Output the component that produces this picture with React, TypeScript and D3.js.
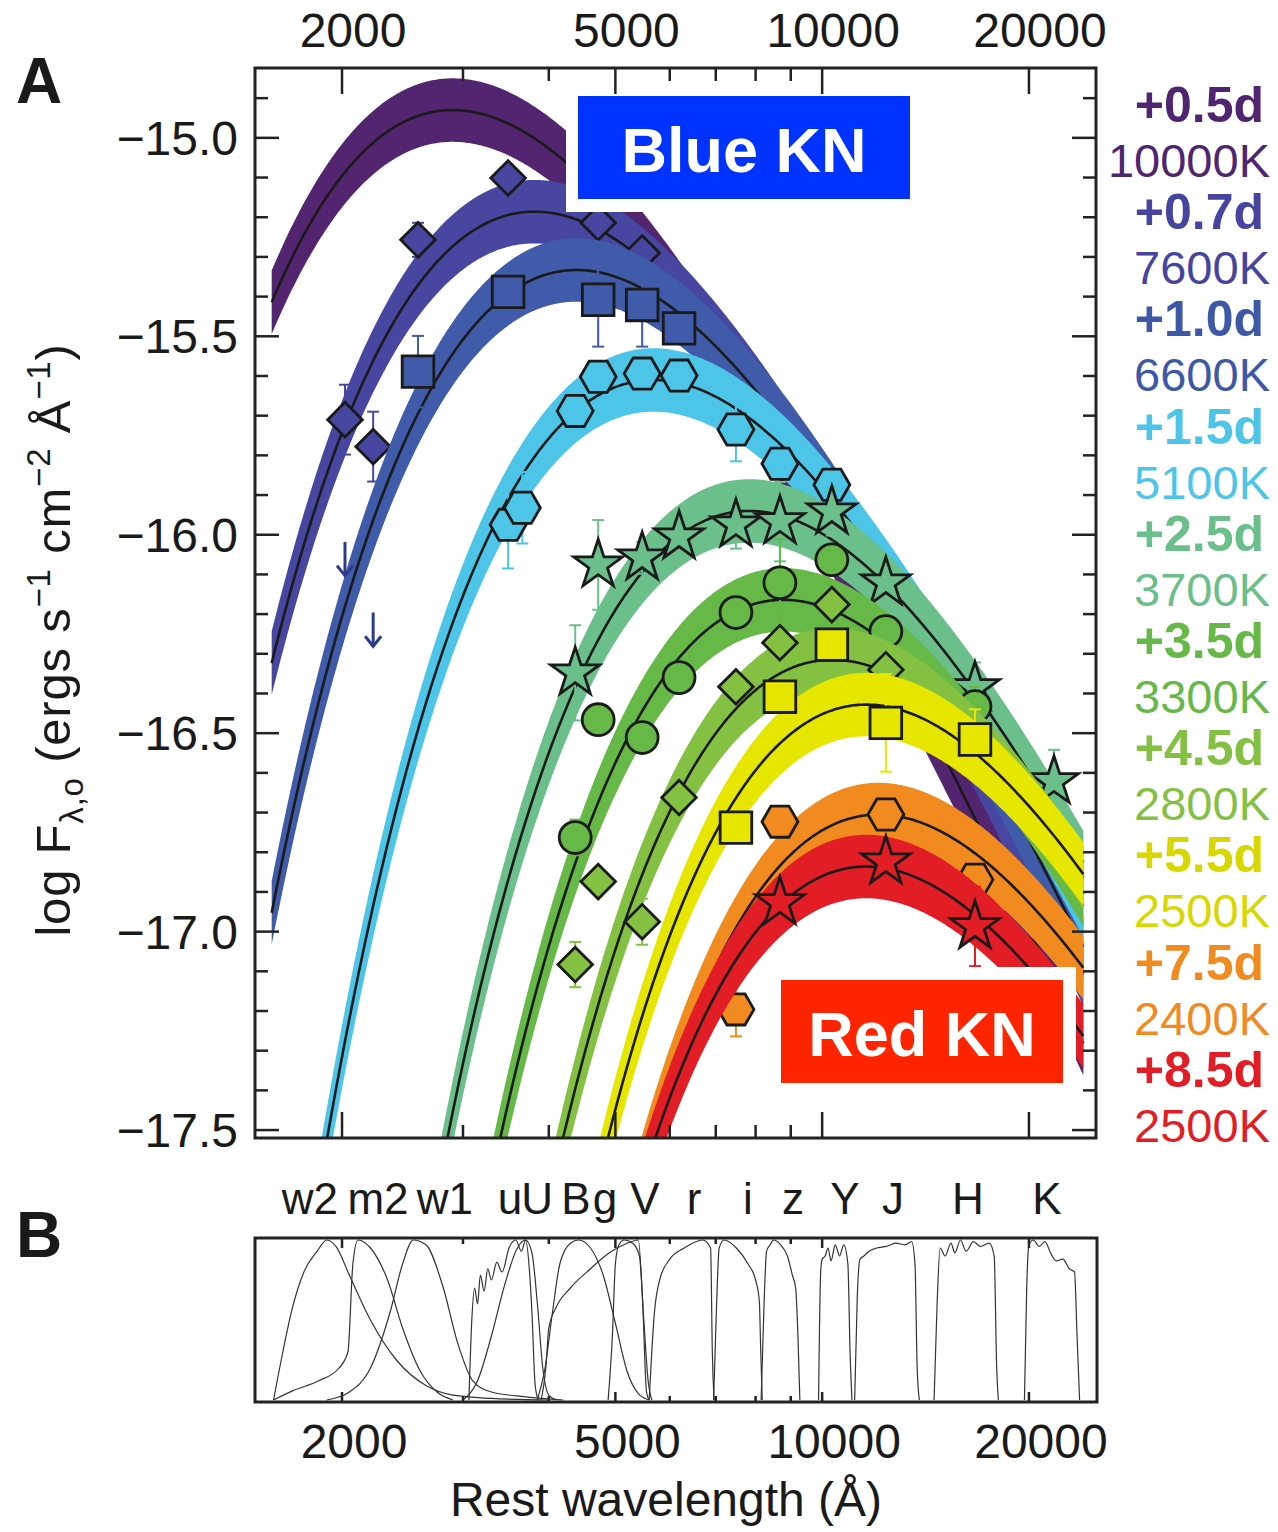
import React from "react";
import * as d3 from "d3";

const W = 1278;
const H = 1532;

// filters and their rest-frame effective wavelengths (Å)
const filterNames = ["w2", "m2", "w1", "u", "U", "B", "g", "V", "r", "i", "z", "Y", "J", "H", "K"];
const filterWaves = [2020, 2220, 2580, 3490, 3660, 4370, 4720, 5470, 6190, 7490, 8680, 10330, 12380, 16690, 21750];
// where the filter names sit above panel B
const filterLabelWaves = [1796, 2256, 2824, 3512, 3845, 4382, 4829, 5522, 6507, 7798, 9070, 10794, 12679, 16302, 21238];

// epochs, blackbody temperatures, peak log flux of each fit
const epochLabels = ["+0.5d", "+0.7d", "+1.0d", "+1.5d", "+2.5d", "+3.5d", "+4.5d", "+5.5d", "+7.5d", "+8.5d"];
const tempLabels = ["10000K", "7600K", "6600K", "5100K", "3700K", "3300K", "2800K", "2500K", "2400K", "2500K"];
const temps = [10000, 7600, 6600, 5100, 3700, 3300, 2800, 2500, 2400, 2500];
const peakLogF = [-14.93, -15.186, -15.333, -15.61, -15.94, -16.164, -16.315, -16.428, -16.705, -16.836];
const bandHalfWidth = 0.08;
const colors = ["#532470", "#4747a1", "#3f5ba9", "#4cc5e9", "#6bbf8b", "#66b847", "#84c142", "#e6e600", "#f18b1f", "#e31d25"];
const textColors = ["#4f2470", "#4545a0", "#3e58a8", "#4cc5e9", "#6bbf8b", "#66b847", "#84c142", "#d8d800", "#f18b1f", "#e31d25"];
const shapes = ["none", "diamond", "square", "hexagon", "star", "circle", "diamond", "square", "hexagon", "star"];

// photometry: [filter, log F, error]
const phot05: [string, number, number][] = [];
const phot07: [string, number, number][] = [
  ["w2", -15.71, 0.088], ["m2", -15.778, 0.088], ["w1", -15.257, 0.043],
  ["u", -15.101, 0.02], ["g", -15.214, 0.02], ["V", -15.29, 0.03],
];
const phot10: [string, number, number][] = [
  ["w1", -15.589, 0.09], ["u", -15.388, 0.03], ["g", -15.408, 0.118],
  ["V", -15.421, 0.105], ["r", -15.48, 0.03],
];
const phot15: [string, number, number][] = [
  ["u", -15.975, 0.11], ["U", -15.932, 0.09], ["B", -15.688, 0.03], ["g", -15.602, 0.03],
  ["V", -15.594, 0.03], ["r", -15.599, 0.03], ["i", -15.735, 0.08], ["z", -15.821, 0.03],
  ["Y", -15.874, 0.03],
];
const phot25: [string, number, number][] = [
  ["B", -16.348, 0.12], ["g", -16.076, 0.113], ["V", -16.058, 0.04], ["r", -16.005, 0.04],
  ["i", -15.975, 0.06], ["z", -15.967, 0.1], ["Y", -15.942, 0.06], ["J", -16.121, 0.04],
  ["H", -16.385, 0.063], ["K", -16.622, 0.08],
];
const phot35: [string, number, number][] = [
  ["B", -16.763, 0.045], ["g", -16.466, 0.03], ["V", -16.511, 0.03], ["r", -16.36, 0.03],
  ["i", -16.196, 0.03], ["z", -16.121, 0.11], ["Y", -16.063, 0.03], ["J", -16.244, 0.03],
  ["H", -16.433, 0.05],
];
const phot45: [string, number, number][] = [
  ["B", -17.083, 0.057], ["g", -16.874, 0.03], ["V", -16.975, 0.058], ["r", -16.662, 0.03],
  ["i", -16.383, 0.03], ["z", -16.272, 0.03], ["Y", -16.176, 0.03], ["J", -16.34, 0.03],
];
const phot55: [string, number, number][] = [
  ["i", -16.738, 0.03], ["z", -16.408, 0.03], ["Y", -16.277, 0.03], ["J", -16.474, 0.123],
  ["H", -16.516, 0.076],
];
const phot75: [string, number, number][] = [
  ["i", -17.196, 0.068], ["z", -16.723, 0.03], ["J", -16.705, 0.03], ["H", -16.869, 0.04],
];
const phot85: [string, number, number][] = [
  ["z", -16.927, 0.03], ["J", -16.824, 0.03], ["H", -16.987, 0.1],
];
const photometry = [phot05, phot07, phot10, phot15, phot25, phot35, phot45, phot55, phot75, phot85];
// +1.0d upper limits
const upperLimits10: [string, number][] = [["w2", -16.018], ["m2", -16.196]];

// filter transmission curves [wavelength, normalised throughput]
const trW2 = [[1590, 0], [1640, 0.3], [1690, 0.56], [1760, 0.8], [1840, 0.93], [1900, 1], [1960, 0.96], [2050, 0.78], [2200, 0.5], [2400, 0.25], [2650, 0.09], [2900, 0.03], [3300, 0.01], [4000, 0]];
const trM2 = [[1590, 0], [1700, 0.06], [1850, 0.12], [1980, 0.2], [2040, 0.3], [2074, 0.85], [2110, 1], [2200, 0.95], [2330, 0.75], [2450, 0.45], [2600, 0.18], [2750, 0.05], [2900, 0]];
const trW1 = [[1900, 0], [2050, 0.05], [2200, 0.2], [2350, 0.55], [2450, 0.85], [2540, 1], [2650, 0.97], [2800, 0.72], [2950, 0.35], [3100, 0.12], [3300, 0.05], [3700, 0.02], [4200, 0]];
const trSwopeU = [[3060, 0], [3090, 0.5], [3120, 0.7], [3150, 0.6], [3180, 0.78], [3220, 0.68], [3260, 0.82], [3300, 0.75], [3360, 0.86], [3420, 0.8], [3500, 0.95], [3580, 1], [3650, 0.93], [3700, 1], [3750, 0.8], [3780, 0.55], [3820, 0.1], [3860, 0]];
const trU = [[3000, 0], [3150, 0.12], [3300, 0.4], [3450, 0.72], [3600, 0.95], [3700, 1], [3780, 0.92], [3850, 0.6], [3920, 0.2], [4000, 0.03], [4100, 0]];
const trB = [[3850, 0], [3950, 0.2], [4050, 0.55], [4150, 0.85], [4300, 0.98], [4420, 1], [4600, 0.95], [4800, 0.78], [5000, 0.48], [5200, 0.18], [5400, 0.04], [5600, 0]];
const trG = [[3900, 0], [3960, 0.2], [4000, 0.45], [4100, 0.58], [4300, 0.7], [4600, 0.82], [4900, 0.92], [5200, 0.98], [5400, 1], [5480, 0.6], [5550, 0.05], [5600, 0]];
const trV = [[4880, 0], [4950, 0.4], [5000, 0.85], [5060, 0.97], [5150, 1], [5300, 0.98], [5420, 0.9], [5500, 0.5], [5580, 0.12], [5650, 0]];
const trR = [[5600, 0], [5700, 0.55], [5800, 0.75], [6000, 0.88], [6300, 0.95], [6700, 1], [6880, 0.95], [6920, 0.3], [6960, 0]];
const trI = [[6950, 0], [7020, 0.6], [7080, 0.95], [7200, 1], [7500, 0.95], [7800, 0.85], [8000, 0.75], [8100, 0.62], [8140, 0.3], [8180, 0]];
const trZ = [[8150, 0], [8230, 0.6], [8300, 0.93], [8400, 0.97], [8500, 1], [8700, 0.97], [8900, 0.9], [9050, 0.78], [9150, 0.7], [9220, 0.4], [9280, 0]];
const trY = [[9880, 0], [9950, 0.8], [10000, 0.88], [10100, 0.9], [10200, 0.95], [10300, 0.87], [10450, 0.97], [10600, 0.9], [10750, 0.97], [10900, 0.85], [10980, 0.3], [11050, 0]];
const trJ = [[11150, 0], [11250, 0.65], [11350, 0.88], [11500, 0.9], [11700, 0.93], [12000, 0.95], [12400, 0.96], [12800, 0.98], [13200, 0.97], [13500, 0.99], [13650, 0.85], [13750, 0.2], [13850, 0]];
const trH = [[14550, 0], [14700, 0.6], [14850, 0.95], [15100, 0.9], [15400, 0.98], [15600, 0.92], [15900, 1], [16200, 0.93], [16600, 0.99], [17000, 0.96], [17500, 0.98], [17800, 0.9], [17950, 0.2], [18050, 0]];
const trK = [[19700, 0], [19850, 0.7], [20000, 0.97], [20300, 1], [20700, 0.96], [21100, 0.99], [21500, 0.92], [21900, 0.87], [22400, 0.88], [22900, 0.82], [23300, 0.8], [23500, 0.4], [23700, 0]];
const transmissions = [trW2, trM2, trW1, trSwopeU, trU, trB, trG, trV, trR, trI, trZ, trY, trJ, trH, trK];

const xTicks = [2000, 3000, 4000, 5000, 6000, 7000, 8000, 9000, 10000, 20000];
const xMajor = [2000, 5000, 10000, 20000];
const yLabels = [-15.0, -15.5, -16.0, -16.5, -17.0, -17.5];

const FONT = "'Liberation Sans', Arial, Helvetica, sans-serif";
const HC_K = 1.4388e8; // Å K

function bbLog(lam: number, T: number) {
  return -5 * Math.log10(lam) - Math.log10(Math.expm1(HC_K / (lam * T)));
}
function modelLog(lam: number, i: number) {
  const T = temps[i];
  const lp = 2.8978e7 / T;
  return peakLogF[i] + bbLog(lam, T) - bbLog(lp, T);
}

function markerPath(shape: string) {
  if (shape === "circle") return d3.symbol(d3.symbolCircle, 800)() as string;
  if (shape === "square") return d3.symbol(d3.symbolSquare, 1000)() as string;
  if (shape === "diamond") return d3.symbol(d3.symbolSquare, 600)() as string;
  if (shape === "star") return d3.symbol(d3.symbolStar, 740)() as string;
  if (shape === "hexagon") {
    const pts = d3.range(6).map((k) => [18 * Math.cos((k * Math.PI) / 3), 18 * Math.sin((k * Math.PI) / 3)] as [number, number]);
    return (d3.line()(pts) as string) + "Z";
  }
  return "";
}

export default function App() {
  const left = 255, right = 1096, top = 68, bottom = 1138;
  const x = d3.scaleLog().domain([1494, 25040]).range([left, right]);
  const y = d3.scaleLinear().domain([-17.52, -14.824]).range([bottom, top]);
  const bTop = 1238, bBot = 1402;
  const yB = d3.scaleLinear().domain([0, 1]).range([1400, 1240]);

  const waveOf = (f: string) => filterWaves[filterNames.indexOf(f)];
  const grid = d3.range(0, 401).map((k) => 1580 * Math.pow(24000 / 1580, k / 400));

  const yMinor = d3.range(-175, -148).map((v) => v / 10);

  const filterLine = d3.line<number[]>().x((d) => x(d[0])).y((d) => yB(d[1])).curve(d3.curveMonotoneX);

  return (
    <svg width={W} height={H} style={{ position: "absolute", left: 0, top: 0, background: "#fff" }} fontFamily={FONT}>
      <defs>
        <clipPath id="plotA">
          <rect x={left} y={top} width={right - left} height={bottom - top} />
        </clipPath>
      </defs>

      <g clipPath="url(#plotA)">
        {temps.map((T, i) => {
          const area = d3.area<number>()
            .x((d) => x(d))
            .y0((d) => y(modelLog(d, i) - bandHalfWidth))
            .y1((d) => y(modelLog(d, i) + bandHalfWidth));
          const line = d3.line<number>().x((d) => x(d)).y((d) => y(modelLog(d, i)));
          const mp = markerPath(shapes[i]);
          return (
            <g key={i}>
              <path d={area(grid) as string} fill={colors[i]} />
              <path d={line(grid) as string} fill="none" stroke="#1a1a1a" strokeWidth={2.6} />
              {photometry[i].map(([f, v, e], k) => {
                const px = x(waveOf(f));
                return (
                  <g key={"e" + k} stroke={colors[i]} strokeWidth={2}>
                    <line x1={px} x2={px} y1={y(v + e)} y2={y(v - e)} />
                    <line x1={px - 6} x2={px + 6} y1={y(v + e)} y2={y(v + e)} />
                    <line x1={px - 6} x2={px + 6} y1={y(v - e)} y2={y(v - e)} />
                  </g>
                );
              })}
              {photometry[i].map(([f, v], k) => (
                <path key={"m" + k} d={mp}
                  transform={`translate(${x(waveOf(f))},${y(v)})${shapes[i] === "diamond" ? " rotate(45)" : ""}`}
                  fill={colors[i]} stroke="#1a1a1a" strokeWidth={2.8} strokeLinejoin="miter" />
              ))}
              {i === 2 && upperLimits10.map(([f, v], k) => {
                const px = x(waveOf(f));
                const y0 = y(v), y1 = y(v - 0.085);
                return (
                  <g key={"u" + k} stroke="#2b3d8a" strokeWidth={3} fill="none">
                    <line x1={px} x2={px} y1={y0} y2={y1} />
                    <path d={`M${px - 8},${y1 - 10}L${px},${y1}L${px + 8},${y1 - 10}`} />
                  </g>
                );
              })}
            </g>
          );
        })}
      </g>

      {/* Blue KN / Red KN labels */}
      <rect x={566} y={72} width={344} height={140} fill="#fff" />
      <rect x={578} y={96} width={332} height={103} fill="#0033ff" />
      <text x={744} y={172} textAnchor="middle" fill="#fff" fontWeight="bold" fontSize={63}>Blue KN</text>
      <rect x={770} y={967} width={306} height={169} fill="#fff" />
      <rect x={781} y={980} width={282} height={103} fill="#ff2400" />
      <text x={922} y={1056} textAnchor="middle" fill="#fff" fontWeight="bold" fontSize={63}>Red KN</text>

      {/* panel A frame and ticks */}
      <rect x={left} y={top} width={right - left} height={bottom - top} fill="none" stroke="#222" strokeWidth={3} />
      <g stroke="#222" strokeWidth={2.5}>
        {xTicks.map((t) => {
          const len = xMajor.includes(t) ? 26 : 13;
          return (
            <g key={"xt" + t}>
              <line x1={x(t)} x2={x(t)} y1={top} y2={top + len} />
              <line x1={x(t)} x2={x(t)} y1={bottom} y2={bottom - len} />
              <line x1={x(t)} x2={x(t)} y1={bTop} y2={bTop + (xMajor.includes(t) ? 10 : 6)} />
              <line x1={x(t)} x2={x(t)} y1={bBot} y2={bBot - (xMajor.includes(t) ? 10 : 6)} />
            </g>
          );
        })}
        {yMinor.map((v) => {
          const major = Math.abs(v * 2 - Math.round(v * 2)) < 1e-6;
          const len = major ? 24 : 13;
          return (
            <g key={"yt" + v}>
              <line x1={left} x2={left + len} y1={y(v)} y2={y(v)} />
              <line x1={right} x2={right - len} y1={y(v)} y2={y(v)} />
            </g>
          );
        })}
      </g>
      <g fontSize={48} fill="#1a1a1a">
        {xMajor.map((t) => (
          <text key={"xl" + t} x={x(t) + 11} y={47} textAnchor="middle">{t}</text>
        ))}
        {yLabels.map((v) => (
          <text key={"yl" + v} x={238} y={y(v) + 17} textAnchor="end">{"\u2212" + Math.abs(v).toFixed(1)}</text>
        ))}
      </g>
      <text transform="translate(70,640) rotate(-90)" textAnchor="middle" fontSize={49} fill="#1a1a1a" letterSpacing={0.8}>
        log F<tspan fontSize={33} dy={13}>λ,o</tspan>
        <tspan dy={-13}> (ergs s</tspan><tspan fontSize={33} dy={-20}>−1</tspan>
        <tspan dy={20}> cm</tspan><tspan fontSize={33} dy={-20}>−2</tspan>
        <tspan dy={20}> Å</tspan><tspan fontSize={33} dy={-20}>−1</tspan>
        <tspan dy={20}>)</tspan>
      </text>
      <text x={16} y={103} fontSize={64} fontWeight="bold" fill="#1a1a1a">A</text>
      <text x={16} y={1257} fontSize={64} fontWeight="bold" fill="#1a1a1a">B</text>

      {/* legend */}
      {epochLabels.map((lab, i) => (
        <g key={"lg" + i} textAnchor="end" fill={textColors[i]}>
          <text x={1264} y={122 + 107.2 * i} fontSize={50} fontWeight="bold">{lab}</text>
          <text x={1270} y={177 + 107.2 * i} fontSize={47}>{tempLabels[i]}</text>
        </g>
      ))}

      {/* panel B */}
      <g fill="none" stroke="#333" strokeWidth={1.2}>
        {transmissions.map((tr, k) => (
          <path key={"tr" + k} d={filterLine(tr) as string} />
        ))}
      </g>
      <rect x={left} y={bTop} width={right - left + 1} height={bBot - bTop} fill="none" stroke="#222" strokeWidth={3} />
      <g fontSize={44} fill="#1a1a1a" textAnchor="middle">
        {filterNames.map((f, k) => (
          <text key={"fl" + k} x={x(filterLabelWaves[k])} y={1214}>{f}</text>
        ))}
      </g>
      <g fontSize={48} fill="#1a1a1a" textAnchor="middle">
        {xMajor.map((t) => (
          <text key={"bl" + t} x={x(t) + 12} y={1458}>{t}</text>
        ))}
        <text x={666} y={1516} fontSize={48}>Rest wavelength (Å)</text>
      </g>
    </svg>
  );
}
